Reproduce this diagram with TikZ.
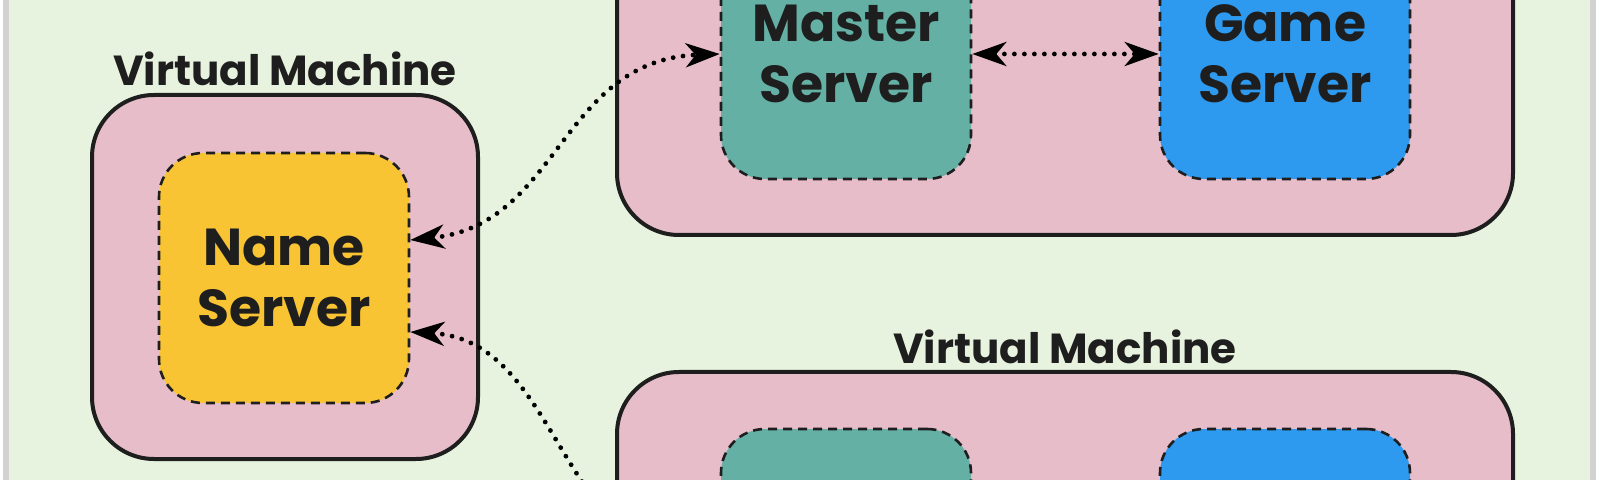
\documentclass[tikz,border=0pt]{standalone}
\usepackage{fontspec}
\setmainfont{Poppins}
\usetikzlibrary{arrows.meta,positioning}

\definecolor{bgGreen}{HTML}{E7F3DF}
\definecolor{vmPink}{HTML}{E8BDCA}
\definecolor{nameYellow}{HTML}{F8C433}
\definecolor{masterTeal}{HTML}{65B0A5}
\definecolor{gameBlue}{HTML}{2E9AEF}
\definecolor{inkBlack}{HTML}{1E1E1E}

\begin{document}
\begin{tikzpicture}[x=0.5pt,y=-0.5pt,
   vm/.style={rectangle,draw=inkBlack,fill=vmPink,line width=2pt,
    rounded corners=31pt,inner sep=0pt},
   srv/.style={rectangle,draw=inkBlack,line width=1.3pt,dash pattern=on 4.5pt off 3pt,
    rounded corners=22pt,minimum width=125pt,minimum height=125pt,
    align=center,font=\fontsize{26}{30.5}\selectfont\bfseries,text=inkBlack},
   vmlabel/.style={font=\fontsize{21}{24}\selectfont\bfseries,text=inkBlack},
   link/.style={{Stealth[length=17pt,width=12pt,inset=5pt]}-{Stealth[length=17pt,width=12pt,inset=5pt]},
    draw=black,line width=2.4pt,line cap=round,dash pattern=on 0pt off 5pt}
    ]

    \useasboundingbox (0,0) rectangle (1600,480);
    \clip (0,0) rectangle (1600,480);

    % frame and background:
    \fill[gray!35] (3,-10) rectangle (1596,490);
    \fill[bgGreen] (9,-10) rectangle (1590,490);

    % virtual machines:
    \node[vm,minimum width=193pt,minimum height=182pt] at (285,277) (vmName) {};
    \node[vm,minimum width=448pt,minimum height=182pt] at (1065,53) (vmTop) {};
    \node[vm,minimum width=448pt,minimum height=182pt] at (1065,554) (vmBottom) {};
    \node[vmlabel] at (285,69) (vmNameLbl) {Virtual Machine};
    \node[vmlabel] at (1065,347) (vmBottomLbl) {Virtual Machine};

    % servers:
    \node[srv,fill=nameYellow] at (284,278) (nameSrv) {Name\\Server};
    \node[srv,fill=masterTeal] at (846,54) (masterTop) {Master\\Server};
    \node[srv,fill=gameBlue] at (1285,54) (gameTop) {Game\\Server};
    \node[srv,fill=masterTeal] at (846,554) (masterBottom) {};
    \node[srv,fill=gameBlue] at (1285,554) (gameBottom) {};

    % links:
    \draw[link] ([yshift=19pt]nameSrv.east) .. controls (560,225) and (560,60) .. (masterTop.west);
    \draw[link] ([yshift=-27pt]nameSrv.east) .. controls (560,340) and (560,560) .. (masterBottom.west);
    \draw[link] (masterTop) -- (gameTop);

\end{tikzpicture}
\end{document}
